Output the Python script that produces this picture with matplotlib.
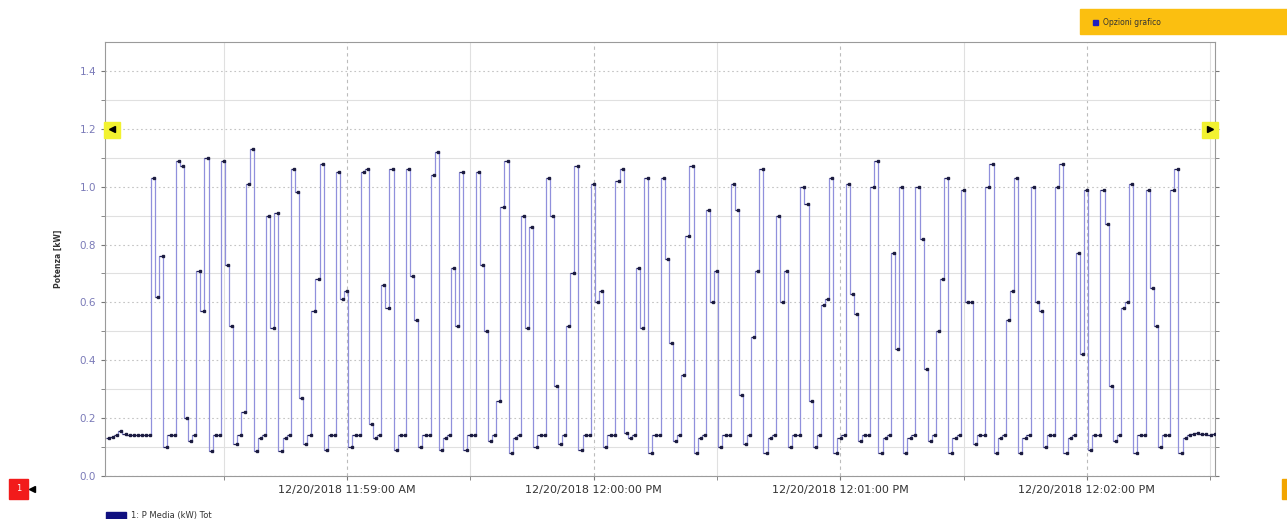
import numpy as np
import matplotlib
matplotlib.use("Agg")
import matplotlib.pyplot as plt
import matplotlib.dates as mdates
from matplotlib.patches import Rectangle

# potenza media, un campione al secondo
p_seg1 = [0.13, 0.135, 0.14, 0.155, 0.145, 0.14, 0.14, 0.14, 0.14, 0.14, 0.14,
          1.03, 0.62, 0.76, 0.10, 0.14, 0.14, 1.09, 1.07, 0.20, 0.12, 0.14, 0.71, 0.57,
          1.10, 0.085, 0.14, 0.14, 1.09, 0.73, 0.52, 0.11, 0.14, 0.22, 1.01, 1.13, 0.085,
          0.13, 0.14, 0.90, 0.51, 0.91, 0.085, 0.13, 0.14, 1.06, 0.98]
p_seg2 = [0.27, 0.11, 0.14, 0.57, 0.68, 1.08, 0.09, 0.14, 0.14, 1.05, 0.61, 0.64, 0.10,
          0.14, 0.14, 1.05, 1.06, 0.18, 0.13, 0.14, 0.66, 0.58, 1.06, 0.09, 0.14, 0.14,
          1.06, 0.69, 0.54, 0.10, 0.14, 0.14, 1.04, 1.12, 0.09, 0.13, 0.14, 0.72, 0.52,
          1.05, 0.09, 0.14, 0.14, 1.05, 0.73]
p_seg3 = [0.50, 0.12, 0.14, 0.26, 0.93, 1.09, 0.08, 0.13, 0.14, 0.90, 0.51, 0.86, 0.10,
          0.14, 0.14, 1.03, 0.90, 0.31, 0.11, 0.14, 0.52, 0.70, 1.07, 0.09, 0.14, 0.14,
          1.01, 0.60, 0.64, 0.10, 0.14, 0.14, 1.02, 1.06, 0.15, 0.13, 0.14, 0.72, 0.51,
          1.03, 0.08, 0.14, 0.14, 1.03, 0.75, 0.46]
p_seg4 = [0.12, 0.14, 0.35, 0.83, 1.07, 0.08, 0.13, 0.14, 0.92, 0.60, 0.71, 0.10, 0.14,
          0.14, 1.01, 0.92, 0.28, 0.11, 0.14, 0.48, 0.71, 1.06, 0.08, 0.13, 0.14, 0.90,
          0.60, 0.71, 0.10, 0.14, 0.14, 1.00, 0.94, 0.26, 0.10, 0.14, 0.59, 0.61, 1.03,
          0.08, 0.13, 0.14, 1.01]
p_seg5 = [0.63, 0.56, 0.12, 0.14, 0.14, 1.00, 1.09, 0.08, 0.13, 0.14, 0.77, 0.44, 1.00,
          0.08, 0.13, 0.14, 1.00, 0.82, 0.37, 0.12, 0.14, 0.50, 0.68, 1.03, 0.08, 0.13,
          0.14, 0.99, 0.60, 0.60, 0.11, 0.14, 0.14, 1.00, 1.08, 0.08, 0.13, 0.14, 0.54,
          0.64, 1.03, 0.08, 0.13, 0.14]
p_seg6 = [1.00, 0.60, 0.57, 0.10, 0.14, 0.14, 1.00, 1.08, 0.08, 0.13, 0.14, 0.77, 0.42,
          0.99, 0.09, 0.14, 0.14, 0.99, 0.87, 0.31, 0.12, 0.14, 0.58, 0.60, 1.01, 0.08,
          0.14, 0.14, 0.99, 0.65, 0.52, 0.10, 0.14, 0.14, 0.99, 1.06, 0.08, 0.13,
          0.14, 0.145, 0.15, 0.145, 0.145, 0.14, 0.145, 0.15]

t_inizio = np.datetime64("2018-12-20T11:58:01.300")
x_min = np.datetime64("2018-12-20T11:58:01.100")
x_max = np.datetime64("2018-12-20T12:02:31.200")

y_label = "Potenza [kW]"
legenda = "1: P Media (kW) Tot"
bottone = "Opzioni grafico"

p = np.array(p_seg1 + p_seg2 + p_seg3 + p_seg4 + p_seg5 + p_seg6)
t = t_inizio + np.arange(len(p) + 1) * np.timedelta64(1000, "ms")

fig = plt.figure(figsize=(12.87, 5.19), dpi=100)
ax = fig.add_axes([0.0816, 0.0829, 0.8625, 0.8362])

# gradini: orizzontali scuri, verticali chiari
ax.hlines(p, t[:-1], t[1:], color="#23235e", lw=0.9, zorder=3)
ax.vlines(t[1:-1], p[:-1], p[1:], color="#9090dc", lw=0.9, zorder=2)
ax.plot(t[1:] - np.timedelta64(200, "ms"), p, "s", ms=1.5, color="#1c1c40", zorder=4)

ax.set_ylim(0, 1.5)
ax.set_xlim(x_min, x_max)
ax.set_yticks(np.arange(0, 1.41, 0.2))
ax.set_yticks(np.arange(0.1, 1.5, 0.2), minor=True)
ax.yaxis.set_major_formatter(plt.FormatStrFormatter("%.1f"))

ax.xaxis.set_major_locator(mdates.MinuteLocator())
ax.xaxis.set_minor_locator(mdates.SecondLocator(bysecond=[30]))
ax.xaxis.set_major_formatter(mdates.DateFormatter("%m/%d/%Y %I:%M:%S %p"))

ax.grid(True, which="major", axis="y", color="#c4c4c4", ls=(0, (1.5, 2.5)), lw=0.8)
ax.grid(True, which="minor", axis="y", color="#e0e0e0", ls="-", lw=0.8)
ax.grid(True, which="major", axis="x", color="#bcbcbc", ls=(0, (3, 3)), lw=0.8)
ax.grid(True, which="minor", axis="x", color="#e0e0e0", ls="-", lw=0.8)
ax.set_axisbelow(True)

ax.tick_params(axis="y", which="both", labelsize=7.5, labelcolor="#7a7ab8",
               color="#777777", length=3, right=True)
ax.tick_params(axis="x", which="both", labelsize=8, labelcolor="#333333",
               color="#777777", length=3)
for s in ax.spines.values():
    s.set_color("#9a9a9a")
    s.set_linewidth(0.8)

ax.set_ylabel(y_label, fontsize=5.5, color="#333333", labelpad=12, fontweight="bold")

# segnaposti gialli ai lati
for xf, m in [(0.087, "<"), (0.940, ">")]:
    fig.patches.append(Rectangle((xf - 0.006, 0.735), 0.012, 0.03,
                                 transform=fig.transFigure, color="#f2f230", zorder=5))
    fig.lines.append(plt.Line2D([xf], [0.752], marker=m, ms=5, color="black",
                                transform=fig.transFigure, zorder=6))

# pulsante opzioni
fig.patches.append(Rectangle((0.839, 0.935), 0.161, 0.047, transform=fig.transFigure,
                             color="#fbbf10"))
fig.patches.append(Rectangle((0.849, 0.952), 0.004, 0.01, transform=fig.transFigure,
                             color="#2020c0"))
fig.text(0.857, 0.957, bottone, fontsize=5.5, color="#333333", va="center")

# indicatore asse in basso a sinistra
fig.patches.append(Rectangle((0.007, 0.039), 0.015, 0.038, transform=fig.transFigure,
                             color="#f21b1b"))
fig.text(0.0145, 0.058, "1", fontsize=6, color="white", ha="center", va="center")
fig.lines.append(plt.Line2D([0.025], [0.058], marker="<", ms=5, color="black",
                            transform=fig.transFigure, zorder=6))
fig.patches.append(Rectangle((0.996, 0.039), 0.01, 0.038, transform=fig.transFigure,
                             color="#f2a500"))

# legenda
fig.patches.append(Rectangle((0.082, 0.0), 0.016, 0.013, transform=fig.transFigure,
                             color="#101080"))
fig.text(0.102, 0.006, legenda, fontsize=6, color="#333333", va="center")

fig.savefig("out.png", dpi=100)
